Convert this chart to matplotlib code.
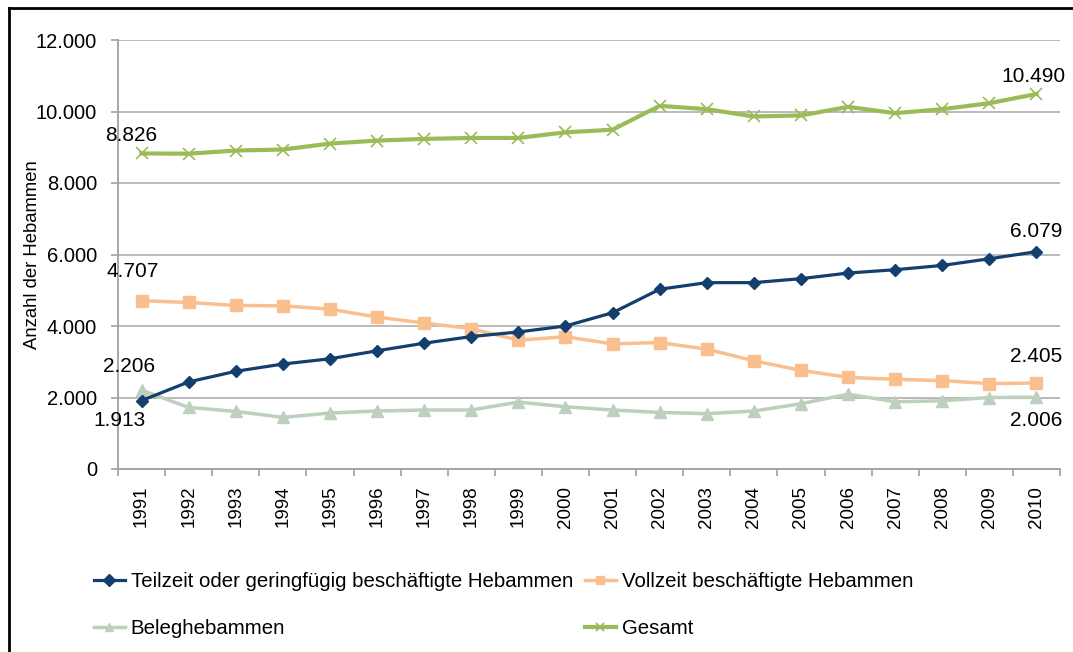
import matplotlib
matplotlib.use("Agg")
import matplotlib.pyplot as plt
from matplotlib.lines import Line2D
from matplotlib.ticker import FuncFormatter, FixedLocator

plt.rcParams['font.family'] = ['Liberation Sans', 'DejaVu Sans']

years = [str(y) for y in range(1991, 2011)]

teilzeit = [1913, 2436, 2733, 2936, 3083, 3306, 3519, 3704, 3833, 4000,
            4370, 5028, 5213, 5213, 5324, 5481, 5574, 5694, 5880, 6079]
vollzeit = [4707, 4658, 4575, 4564, 4472, 4250, 4083, 3926, 3603, 3700,
            3500, 3537, 3352, 3028, 2759, 2564, 2509, 2472, 2389, 2405]
beleg = [2206, 1722, 1611, 1444, 1566, 1622, 1650, 1650, 1872, 1741,
         1650, 1583, 1547, 1622, 1825, 2094, 1880, 1908, 2000, 2006]
gesamt = [8826, 8820, 8908, 8936, 9103, 9186, 9233, 9260, 9260, 9417,
          9491, 10158, 10065, 9861, 9889, 10130, 9954, 10065, 10232, 10490]

names = ["Teilzeit oder geringfügig beschäftigte Hebammen",
         "Vollzeit beschäftigte Hebammen",
         "Beleghebammen",
         "Gesamt"]

c_teil = "#123F6E"
c_voll = "#FABF8F"
c_beleg = "#BDD0BD"
c_ges = "#9BBB59"


def de(v, pos=None):
    return f"{int(v):,}".replace(",", ".")


fig = plt.figure(figsize=(10.73, 6.52), dpi=100)
ax = fig.add_axes([118 / 1073, 1 - 469 / 652, 942 / 1073, 429 / 652])

x = list(range(len(years)))
l1, = ax.plot(x, teilzeit, color=c_teil, lw=2.3, marker="D", ms=6, zorder=5)
l2, = ax.plot(x, vollzeit, color=c_voll, lw=2.5, marker="s", ms=9, zorder=4)
l3, = ax.plot(x, beleg, color=c_beleg, lw=2.5, marker="^", ms=9, zorder=3)
l4, = ax.plot(x, gesamt, color=c_ges, lw=3, marker="x", ms=9, mew=1.2, zorder=3)

ax.set_xlim(-0.5, len(years) - 0.5)
ax.set_ylim(0, 12000)
ax.set_yticks(range(0, 12001, 2000))
ax.yaxis.set_major_formatter(FuncFormatter(de))
ax.grid(axis="y", color="#B4B4B4", lw=1.3)
ax.set_axisbelow(True)

ax.set_xticks(x)
ax.set_xticklabels(years, rotation=90, fontsize=13.5)
ax.xaxis.set_minor_locator(FixedLocator([i - 0.5 for i in range(len(years) + 1)]))
ax.tick_params(axis="x", which="major", length=0, pad=12)
ax.tick_params(axis="x", which="minor", length=5, color="#A0A0A0", width=1.2)
ax.tick_params(axis="y", length=5, color="#A0A0A0", width=1.2, labelsize=14.5, pad=10)

for s in ["top", "right"]:
    ax.spines[s].set_visible(False)
for s in ["left", "bottom"]:
    ax.spines[s].set_color("#A0A0A0")
    ax.spines[s].set_linewidth(1.3)

fig.text(33 / 1073, 1 - 255 / 652, "Anzahl der Hebammen", rotation=90,
         ha="center", va="center", fontsize=13.3)

# data labels at first and last points
labels = [
    (0, gesamt[0], -10, 18), (len(years) - 1, gesamt[-1], -3, 17),
    (0, vollzeit[0], -9, 29), (len(years) - 1, vollzeit[-1], 0, 27),
    (0, beleg[0], -12, 24), (len(years) - 1, beleg[-1], 0, -23),
    (0, teilzeit[0], -22, -20), (len(years) - 1, teilzeit[-1], 0, 20),
]
for xi, yi, dx, dy in labels:
    ax.annotate(de(yi), (xi, yi), xytext=(dx, dy), textcoords="offset pixels",
                ha="center", va="center", fontsize=15)

leg1 = fig.legend([l1, l3], [names[0], names[2]], loc="center left",
                  bbox_to_anchor=(94 / 1073, 1 - 605 / 652), frameon=False,
                  fontsize=14.7, handlelength=1.5, handletextpad=0.3,
                  labelspacing=1.35, borderpad=0, borderaxespad=0)
leg2 = fig.legend([l2, l4], [names[1], names[3]], loc="center left",
                  bbox_to_anchor=(585 / 1073, 1 - 605 / 652), frameon=False,
                  fontsize=14.7, handlelength=1.5, handletextpad=0.3,
                  labelspacing=1.35, borderpad=0, borderaxespad=0)
for lg in (leg1, leg2):
    for h in lg.legend_handles:
        h.set_markersize(6)

# outer frame (top and left edge visible)
fig.add_artist(Line2D([9 / 1073, 9 / 1073], [0, 1 - 8 / 652],
                      transform=fig.transFigure, color="black", lw=2))
fig.add_artist(Line2D([9 / 1073, 1], [1 - 8 / 652, 1 - 8 / 652],
                      transform=fig.transFigure, color="black", lw=2))

fig.savefig("out.png", dpi=100)
